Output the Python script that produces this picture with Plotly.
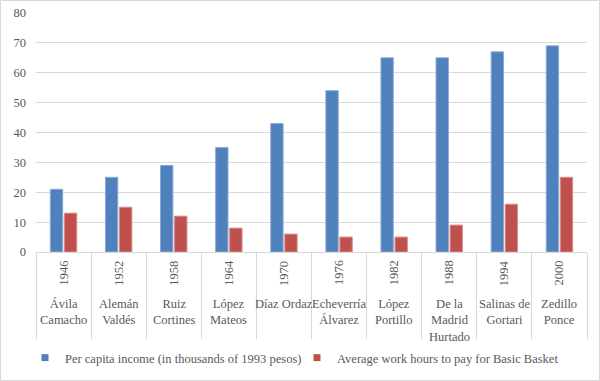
import plotly.graph_objects as go

years = ["1946", "1952", "1958", "1964", "1970", "1976", "1982", "1988", "1994", "2000"]
presidents = ["Ávila<br>Camacho", "Alemán<br>Valdés", "Ruiz<br>Cortines", "López<br>Mateos",
              "Díaz Ordaz", "Echeverría<br>Álvarez", "López<br>Portillo", "De la<br>Madrid<br>Hurtado",
              "Salinas de<br>Gortari", "Zedillo<br>Ponce"]
income = [21, 25, 29, 35, 43, 54, 65, 65, 67, 69]
work_hours = [13, 15, 12, 8, 6, 5, 5, 9, 16, 25]
series_names = ["Per capita income (in thousands of 1993 pesos)",
                "Average work hours to pay for Basic Basket"]
colors = ["#4F81BD", "#C0504D"]
edge_colors = ["#8EAAD6", "#D98E8C"]

FONT = "Liberation Serif"
GRAY = "#595959"
GRID = "#D9D9D9"

W, H = 600, 381
ML, MR, MT, MB = 36, 13, 13, 129
PW, PH = W - ML - MR, H - MT - MB

fig = go.Figure()
for vals, name, c, ec in zip([income, work_hours], series_names, colors, edge_colors):
    fig.add_trace(go.Bar(x=years, y=vals, name=name, showlegend=False,
                         marker=dict(color=c, line=dict(color=ec, width=1))))
# legend entries with small square keys
for name, c in zip(series_names, colors):
    fig.add_trace(go.Scatter(x=[None], y=[None], mode="markers", name=name,
                             marker=dict(symbol="square", size=7, color=c)))

def py(px):
    return (MT + PH - px) / PH

annotations = []
for i, (yr, pres) in enumerate(zip(years, presidents)):
    annotations.append(dict(x=i, y=py(273), xref="x", yref="paper", text=yr, textangle=-90,
                            showarrow=False, xanchor="center", yanchor="middle",
                            font=dict(family=FONT, size=12.5, color=GRAY)))
    annotations.append(dict(x=i, y=py(295), xref="x", yref="paper", text=pres,
                            showarrow=False, xanchor="center", yanchor="top",
                            font=dict(family=FONT, size=12.5, color=GRAY)))

fig.update_layout(
    width=W, height=H,
    margin=dict(l=ML, r=MR, t=MT, b=MB, pad=0, autoexpand=False),
    paper_bgcolor="white", plot_bgcolor="white",
    barmode="group", bargap=0.49, bargroupgap=0.12,
    font=dict(family=FONT, size=12.5, color=GRAY),
    showlegend=True,
    legend=dict(orientation="h", xref="container", yref="container",
                x=25 / W, xanchor="left", y=1 - 358 / H, yanchor="middle",
                font=dict(family=FONT, size=12.5, color=GRAY), itemwidth=30,
                entrywidth=227, entrywidthmode="pixels",
                bgcolor="rgba(0,0,0,0)", tracegroupgap=0),
    xaxis=dict(type="category", showticklabels=False, ticks="outside", tickson="boundaries",
               ticklen=86, tickcolor=GRID, tickwidth=1, showgrid=False, showline=False,
               range=[-0.5, 9.5]),
    yaxis=dict(range=[0, 80], dtick=10, showgrid=True, gridcolor=GRID, gridwidth=1,
               zeroline=True, zerolinecolor=GRID, zerolinewidth=1,
               tickfont=dict(family=FONT, size=12.5, color=GRAY), ticklabelstandoff=9),
    annotations=annotations,
    shapes=[dict(type="rect", xref="paper", yref="paper",
                 x0=-(ML - 0.5) / PW, x1=1 + (MR - 0.5) / PW,
                 y0=-(MB - 0.5) / PH, y1=1 + (MT - 0.5) / PH,
                 line=dict(color=GRID, width=1), layer="below")],
)

fig.write_html("out.html", config={"displayModeBar": False},
               post_script="document.body.style.margin='0';document.body.style.overflow='hidden';")
